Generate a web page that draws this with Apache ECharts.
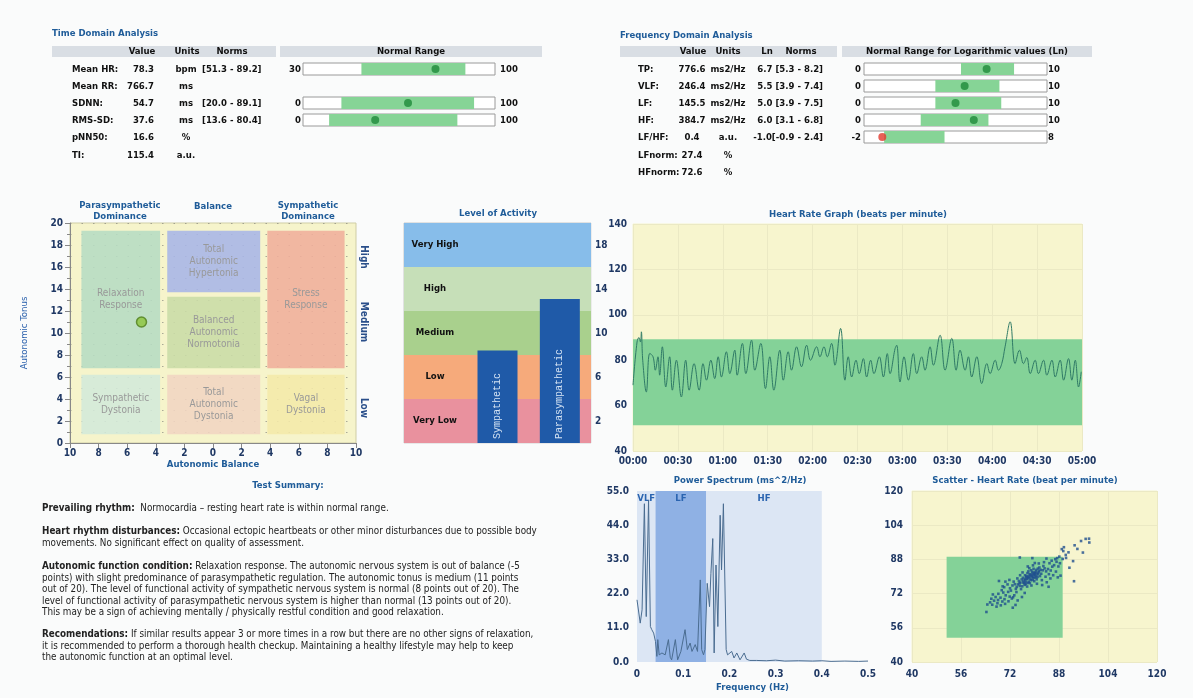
<!DOCTYPE html>
<html>
<head>
<meta charset="utf-8">
<title>HRV Report</title>
<script src="https://cdn.jsdelivr.net/npm/echarts@6/dist/echarts.min.js"></script>
<style>
  html, body { margin: 0; padding: 0; background: #fafbfb; }
  #page { position: relative; width: 1193px; height: 698px; overflow: hidden;
    font-family: "DejaVu Sans Condensed", "Liberation Sans", sans-serif; color: #111; }
  #chart { position: absolute; left: 0; top: 0; width: 1193px; height: 698px; }
  .t { position: absolute; white-space: nowrap; font-size: 9.5px; line-height: 12px; z-index: 2; }
  .b { font-weight: bold; }
  .title { color: #1f5c99; font-weight: bold; }
  .hdr { position: absolute; background: #d9dee4; height: 11px; }
  .summary { position: absolute; left: 42px; font-size: 9.8px; line-height: 11.5px; white-space: nowrap; color: #222; z-index: 2; }
</style>
</head>
<body>
<div id="page">
  <div id="chart"></div>
</div>
<script>
// ---- time domain table ----
const tdLabels = ['Mean HR:', 'Mean RR:', 'SDNN:', 'RMS-SD:', 'pNN50:', 'TI:'];
const tdValues = [78.3, 766.7, 54.7, 37.6, 16.6, 115.4];
const tdUnits = ['bpm', 'ms', 'ms', 'ms', '%', 'a.u.'];
const tdNorms = ['[51.3 - 89.2]', '', '[20.0 - 89.1]', '[13.6 - 80.4]', '', ''];
const tdBarRows = [0, 2, 3];
const tdBarMin = [30, 0, 0];
const tdBarMax = [100, 100, 100];
const tdBarLo = [51.3, 20.0, 13.6];
const tdBarHi = [89.2, 89.1, 80.4];

// ---- frequency domain table ----
const fdLabels = ['TP:', 'VLF:', 'LF:', 'HF:', 'LF/HF:', 'LFnorm:', 'HFnorm:'];
const fdValues = [776.6, 246.4, 145.5, 384.7, 0.4, 27.4, 72.6];
const fdUnits = ['ms2/Hz', 'ms2/Hz', 'ms2/Hz', 'ms2/Hz', 'a.u.', '%', '%'];
const fdLn = [6.7, 5.5, 5.0, 6.0, -1.0];
const fdLo = [5.3, 3.9, 3.9, 3.1, -0.9];
const fdHi = [8.2, 7.4, 7.5, 6.8, 2.4];
const fdMin = [0, 0, 0, 0, -2];
const fdMax = [10, 10, 10, 10, 8];

// ---- autonomic balance ----
const zoneNames = ['Relaxation\nResponse', 'Total\nAutonomic\nHypertonia', 'Balanced\nAutonomic\nNormotonia',
  'Stress\nResponse', 'Sympathetic\nDystonia', 'Total\nAutonomic\nDystonia', 'Vagal\nDystonia'];
const zoneX0 = [-9.2, -3.2, -3.2, 3.8, -9.2, -3.2, 3.8];
const zoneX1 = [-3.7, 3.3, 3.3, 9.2, -3.7, 3.3, 9.2];
const zoneY0 = [6.8, 13.7, 6.8, 6.8, 0.8, 0.8, 0.8];
const zoneY1 = [19.3, 19.3, 13.3, 19.3, 6.2, 6.2, 6.2];
const zoneColors = ['#b6dcc3', '#a7b5e7', '#cadca6', '#f0ae9b', '#d3e9da', '#f1d5c2', '#f4e9a8'];
const balanceX = -5;
const tonusY = 11;
const tonusLevels = ['High', 'Medium', 'Low'];

// ---- level of activity ----
const actCats = ['', 'Sympathetic', 'Parasympathetic'];
const actValues = ['-', 8.4, 13.1];
const actBandNames = ['Very Low', 'Low', 'Medium', 'High', 'Very High'];
const actBandEdges = [0, 4, 8, 12, 16, 20];
const actBandColors = ['#e9919e', '#f6aa7b', '#a9d08d', '#c6dfb8', '#87bdea'];

// ---- heart rate graph (seconds, bpm) ----
const hrTime = [0, 2.7, 4.0, 5.0, 5.6, 6.5, 8.9, 11.2, 13.4, 14.9, 16.7, 17.8, 19.6, 21.9, 24.5, 26.3, 29.0,
  32.3, 35.2, 37.5, 40.8, 44.2, 46.8, 49.1, 52.0, 54.6, 56.9, 59.1, 62.4, 64.7, 68.0, 69.6, 73.1, 75.4,
  79.2, 81.4, 85.4, 88.5, 91.4, 94.1, 98.1, 100.4, 103.7, 105.9, 109.3, 112.6, 116.0, 118.6, 122.7,
  124.9, 127.6, 129.8, 132.7, 134.9, 138.7, 141.6, 143.8, 146.1, 149.0, 151.2, 153.9, 156.1, 158.8,
  161.0, 164.6, 167.3, 169.9, 171.7, 175.1, 176.2, 178.4, 181.1, 184.0, 187.3, 189.6, 192.9, 195.1,
  198.5, 200.7, 205.2, 208.5, 213.0, 215.9, 218.5, 221.9, 224.1, 226.3, 229.7, 233.0, 236.4, 238.6,
  242.0, 244.2, 246.4, 248.6, 252.0, 255.3, 258.2, 260.9, 263.1, 265.4, 268.7, 270.9, 274.3, 276.5,
  279.9, 282.1, 285.4, 287.7, 291.0, 293.2, 295.5, 297.7, 299.5];
const hrBpm = [69.0, 88.0, 90.0, 88.0, 92.5, 80.0, 66.0, 83.0, 81.5, 75.6, 81.5, 73.4, 85.9, 68.2, 81.5, 66.8, 80.0,
  63.8, 80.0, 66.8, 78.5, 66.8, 78.5, 71.2, 80.0, 71.9, 81.5, 72.6, 83.7, 74.1, 84.4, 73.4, 87.4, 74.1,
  88.8, 75.6, 87.4, 67.5, 81.5, 66.8, 84.4, 71.2, 83.7, 75.6, 85.9, 77.1, 86.6, 80.0, 85.9,
  81.5, 85.9, 81.5, 87.4, 77.8, 94.0, 71.2, 81.5, 72.6, 80.0, 74.1, 80.7, 72.6, 80.0,
  74.1, 81.5, 72.6, 82.9, 74.1, 85.1, 86.6, 70.4, 81.5, 71.2, 82.9, 74.1, 81.5, 75.6,
  85.9, 77.8, 91.0, 75.6, 89.6, 75.6, 84.4, 75.6, 81.5, 72.6, 81.5, 69.7, 78.5, 74.1,
  80.0, 75.6, 78.5, 85.9, 96.9, 78.5, 84.4, 78.5, 81.2, 74.1, 80.0, 74.1, 80.0, 73.4,
  80.0, 72.6, 80.0, 71.2, 80.7, 71.2, 80.0, 68.2, 74.9];
const hrNorm = [51.3, 89.2];

// ---- power spectrum ----
const psFreq = [0, 0.007, 0.011, 0.016, 0.020, 0.025, 0.029, 0.032, 0.036, 0.040, 0.043, 0.045, 0.048, 0.054,
  0.061, 0.068, 0.072, 0.075, 0.083, 0.088, 0.095, 0.104, 0.109, 0.115, 0.119, 0.126, 0.131, 0.137, 0.140,
  0.144, 0.147, 0.152, 0.157, 0.160, 0.164, 0.167, 0.171, 0.175, 0.180, 0.183, 0.187, 0.191, 0.193, 0.196,
  0.200, 0.205, 0.210, 0.216, 0.223, 0.232, 0.237, 0.244, 0.259, 0.28, 0.30, 0.32, 0.35, 0.38, 0.40, 0.42,
  0.45, 0.48, 0.50];
const psPower = [20.0, 12.5, 16.8, 50.9, 14.6, 52.0, 11.4, 10.4, 9.3, 6.6, 1.8, 7.2, 2.3, 2.9,
  2.3, 7.2, 1.5, 0.7, 7.2, 0.7, 3.4, 10.4, 4.0, 6.1, 3.4, 5.6, 3.4, 26.4, 4.0,
  2.3, 4.0, 25.3, 17.8, 28.5, 39.7, 2.9, 31.2, 11.4, 47.2, 29.6, 50.9, 50.4, 4.0, 2.3,
  1.8, 3.4, 1.3, 2.9, 0.7, 2.9, 0.9, 0.5, 0.5, 0.4, 0.6, 0.3, 0.4, 0.3, 0.4, 0.2,
  0.3, 0.2, 0.3];
const psBandNames = ['VLF', 'LF', 'HF'];
const psBandEdges = [0, 0.04, 0.15, 0.4];
const psBandColors = ['#dce6f4', '#8fb1e4', '#dce6f4'];

// ---- scatter (HR n, HR n+1) ----
const scatterPts = [
  [78.2,79.6],[79.1,80.4],[77.5,78.9],[80.3,81.7],[76.4,78.1],[78.8,78.3],[79.6,79.2],[80.1,80.6],[81.2,81.4],
  [77.3,80.2],[78.4,81.1],[79.3,82.2],[80.6,83.1],[76.2,79.4],[77.1,77.5],[75.4,77.2],[74.6,76.3],[76.8,76.1],
  [75.2,75.6],[78.6,80.8],[79.8,80.9],[80.9,81.0],[77.9,79.1],[78.1,77.6],[79.4,78.4],[81.5,82.6],[82.2,81.3],
  [77.7,81.6],[76.9,80.6],[78.9,82.9],[80.2,79.5],[81.8,80.2],[79.9,77.8],[76.3,77.2],[75.8,78.6],[74.9,77.9],
  [77.2,76.5],[78.5,76.9],[80.7,78.7],[82.7,82.9],[83.3,83.8],[81.1,83.7],[79.2,81.3],[78.0,80.1],[77.0,78.3],
  [76.6,76.9],[75.1,76.8],[74.2,75.1],[73.6,76.4],[80.4,82.3],[81.6,84.2],[82.9,84.9],[83.8,82.4],[84.4,83.5],
  [79.7,83.6],[78.3,83.9],[76.1,81.9],[75.3,80.6],[74.4,79.1],[73.2,77.6],[72.8,75.8],[73.9,74.2],[75.6,74.1],
  [77.6,75.3],[79.0,75.8],[80.8,76.6],[82.4,78.3],[83.6,79.9],[84.7,81.1],[85.3,82.8],[85.8,84.6],[84.9,86.2],
  [83.1,86.7],[81.4,86.1],[79.5,85.2],[77.8,84.7],[78.7,78.9],[79.5,79.9],[80.0,81.3],[78.9,80.0],[77.4,79.7],
  [79.8,81.8],[81.0,79.8],[78.0,82.4],[76.9,79.0],[80.5,80.0],[81.3,82.0],[82.0,83.1],[77.9,77.0],[76.0,75.4],
  [72.3,73.4],[71.4,72.8],[70.6,71.2],[69.8,72.5],[71.9,70.6],[70.2,69.4],[68.9,70.1],[69.5,68.3],[68.1,69.0],
  [67.3,70.4],[66.8,68.7],[67.9,67.5],[66.2,66.8],[65.5,67.9],[64.6,66.9],[64.3,63.4],[65.9,69.6],[66.4,71.6],
  [68.2,71.9],[69.3,73.6],[70.1,75.0],[71.2,76.3],[72.0,74.5],[73.4,71.2],[72.6,69.7],[71.5,68.4],[73.8,66.7],
  [72.9,65.4],[70.4,67.2],[74.5,68.8],[75.9,70.4],[76.8,72.3],[74.1,72.7],[73.0,70.3],[69.0,66.5],[67.6,65.9],
  [68.4,77.9],[70.5,77.6],[71.8,78.4],[69.6,75.4],
  [86.4,85.3],[87.2,86.9],[86.8,88.1],[85.6,87.4],[87.8,84.7],[88.3,86.2],[87.0,82.3],[86.1,80.6],[85.2,79.1],
  [84.0,77.3],[87.6,79.6],[88.5,80.4],[84.6,75.2],[82.5,76.0],[83.9,88.4],[79.3,88.6],[75.2,88.9],[80.1,86.3],
  [88.9,92.8],[89.4,91.9],[90.2,90.1],[91.1,91.3],[92.6,87.2],[91.4,84.1],[92.9,77.8],[94.0,92.9],[95.8,91.2],
  [95.2,96.6],[96.7,97.6],[97.9,95.9],[97.8,97.7],[90.3,88.7],[88.1,89.3],[89.2,88.2],[87.4,88.6],[89.6,93.7],
  [93.1,94.6]];

// ---------------- text (tables + summary) ----------------
const page = document.getElementById('page');
function put(x, y, text, cls, align) {
  const d = document.createElement('div');
  d.className = 't ' + (cls || '');
  d.textContent = text;
  d.style.left = x + 'px';
  d.style.top = y + 'px';
  const tx = align === 'center' ? '-50%' : align === 'right' ? '-100%' : '0';
  d.style.transform = 'translate(' + tx + ', -50%)';
  page.appendChild(d);
  return d;
}
function bar(x, y, w) {
  const d = document.createElement('div');
  d.className = 'hdr';
  d.style.left = x + 'px'; d.style.top = y + 'px'; d.style.width = w + 'px';
  page.appendChild(d);
}

const rowY = [69, 86, 103, 120, 137, 155, 172];

put(52, 33, 'Time Domain Analysis', 'title');
bar(52, 46, 224); bar(280, 46, 262);
put(142, 51, 'Value', 'b', 'center');
put(187, 51, 'Units', 'b', 'center');
put(232, 51, 'Norms', 'b', 'center');
put(411, 51, 'Normal Range', 'b', 'center');
tdLabels.forEach((l, i) => {
  put(72, rowY[i], l, 'b');
  put(154, rowY[i], tdValues[i].toFixed(1), 'b', 'right');
  put(186, rowY[i], tdUnits[i], 'b', 'center');
  if (tdNorms[i]) put(202, rowY[i], tdNorms[i], 'b');
});
tdBarRows.forEach((r, k) => {
  put(301, rowY[r], String(tdBarMin[k]), 'b', 'right');
  put(500, rowY[r], String(tdBarMax[k]), 'b');
});

put(620, 35, 'Frequency Domain Analysis', 'title');
bar(620, 46, 217); bar(842, 46, 250);
put(693, 51, 'Value', 'b', 'center');
put(728, 51, 'Units', 'b', 'center');
put(767, 51, 'Ln', 'b', 'center');
put(801, 51, 'Norms', 'b', 'center');
put(967, 51, 'Normal Range for Logarithmic values (Ln)', 'b', 'center');
fdLabels.forEach((l, i) => {
  put(638, rowY[i], l, 'b');
  put(692, rowY[i], fdValues[i].toFixed(1), 'b', 'center');
  put(728, rowY[i], fdUnits[i], 'b', 'center');
  if (i < fdLn.length) {
    const ln = fdLn[i].toFixed(1);
    const sep = fdLn[i] < 0 ? '' : ' ';
    put(823, rowY[i], ln + sep + '[' + fdLo[i].toFixed(1) + ' - ' + fdHi[i].toFixed(1) + ']', 'b', 'right');
    put(861, rowY[i], String(fdMin[i]), 'b', 'right');
    put(1048, rowY[i], String(fdMax[i]), 'b');
  }
});

// chart titles / headers
put(120, 205, 'Parasympathetic', 'title', 'center');
put(120, 216, 'Dominance', 'title', 'center');
put(213, 206, 'Balance', 'title', 'center');
put(308, 205, 'Sympathetic', 'title', 'center');
put(308, 216, 'Dominance', 'title', 'center');
put(498, 213, 'Level of Activity', 'title', 'center');
put(858, 214, 'Heart Rate Graph (beats per minute)', 'title', 'center');
put(740, 480, 'Power Spectrum (ms^2/Hz)', 'title', 'center');
put(1025, 480, 'Scatter - Heart Rate (beat per minute)', 'title', 'center');
put(288, 485, 'Test Summary:', 'title', 'center');

const summary = [
  [502, '<b>Prevailing rhythm:</b>&nbsp; Normocardia – resting heart rate is within normal range.'],
  [525, '<b>Heart rhythm disturbances:</b> Occasional ectopic heartbeats or other minor disturbances due to possible body<br>' +
        'movements. No significant effect on quality of assessment.'],
  [560, '<b>Autonomic function condition:</b> Relaxation response. The autonomic nervous system is out of balance (-5<br>' +
        'points) with slight predominance of parasympathetic regulation. The autonomic tonus is medium (11 points<br>' +
        'out of 20). The level of functional activity of sympathetic nervous system is normal (8 points out of 20). The<br>' +
        'level of functional activity of parasympathetic nervous system is higher than normal (13 points out of 20).<br>' +
        'This may be a sign of achieving mentally / physically restful condition and good relaxation.'],
  [628, '<b>Recomendations:</b> If similar results appear 3 or more times in a row but there are no other signs of relaxation,<br>' +
        'it is recommended to perform a thorough health checkup. Maintaining a healthy lifestyle may help to keep<br>' +
        'the autonomic function at an optimal level.']
];
summary.forEach(([top, html]) => {
  const d = document.createElement('div');
  d.className = 'summary';
  d.style.top = top + 'px';
  d.innerHTML = html;
  page.appendChild(d);
});

// ---------------- charts ----------------
const FONT = '"DejaVu Sans Condensed", "Liberation Sans", sans-serif';
const NAVY = '#1f3864';
const BLUE = '#1f5c99';
const axisLbl = { color: NAVY, fontWeight: 'bold', fontSize: 10, fontFamily: FONT };

const grids = [], xAxes = [], yAxes = [], series = [];
function addGrid(g) { grids.push(g); return grids.length - 1; }

function rangeBar(left, top, width, min, max, lo, hi, val) {
  const gi = addGrid({ left, top, width, height: 12, show: true, backgroundColor: '#fff', borderColor: '#9a9a9a', borderWidth: 1 });
  xAxes.push({ gridIndex: gi, type: 'value', min, max, show: false });
  yAxes.push({ gridIndex: gi, type: 'category', data: [''], show: false });
  const out = val < lo || val > hi;
  series.push({
    type: 'scatter', xAxisIndex: gi, yAxisIndex: gi, silent: true, z: 5,
    symbolSize: 8, itemStyle: { color: out ? '#e23a2e' : '#1e8a3a' },
    data: [[val, 0]],
    markArea: { silent: true, itemStyle: { color: '#86d496' }, data: [[{ xAxis: lo }, { xAxis: hi }]] }
  });
}
tdBarRows.forEach((r, k) => rangeBar(303, rowY[r] - 6, 192, tdBarMin[k], tdBarMax[k], tdBarLo[k], tdBarHi[k], tdValues[r]));
fdLn.forEach((v, i) => rangeBar(864, rowY[i] - 6, 183, fdMin[i], fdMax[i], fdLo[i], fdHi[i], v));

// autonomic balance
const dotLine = { color: 'rgba(110,110,110,0.55)', type: [1.5, 10], width: 1.2 };
const ga = addGrid({ left: 70, top: 223, width: 286, height: 220, show: true, backgroundColor: '#f6f4cb', borderColor: '#cfcda5' });
xAxes.push({
  gridIndex: ga, type: 'value', min: -10, max: 10, interval: 2,
  name: 'Autonomic Balance', nameLocation: 'middle', nameGap: 17,
  nameTextStyle: { color: BLUE, fontWeight: 'bold', fontSize: 9.5, fontFamily: FONT },
  axisLine: { show: true, onZero: false, lineStyle: { color: '#888' } }, axisTick: { show: true, lineStyle: { color: '#888' } },
  axisLabel: { ...axisLbl, margin: 5, formatter: v => Math.abs(v) }, splitLine: { show: false }
});
yAxes.push({
  gridIndex: ga, type: 'value', min: 0, max: 20, interval: 2,
  name: 'Autonomic Tonus', nameLocation: 'middle', nameGap: 40, nameRotate: 90,
  nameTextStyle: { color: '#2c62ad', fontSize: 9.5, fontFamily: FONT },
  axisLine: { show: true, onZero: false, lineStyle: { color: '#888' } }, axisTick: { show: true, lineStyle: { color: '#888' } },
  minorTick: { show: true, splitNumber: 2, lineStyle: { color: '#888' } },
  axisLabel: { ...axisLbl, margin: 7 },
  splitLine: { show: true, lineStyle: dotLine },
  minorSplitLine: { show: true, lineStyle: dotLine }
});
series.push({
  type: 'scatter', xAxisIndex: ga, yAxisIndex: ga, z: 6, silent: true,
  symbolSize: 10, itemStyle: { color: '#8cc43c', borderColor: '#4f7d1c', borderWidth: 1.5 },
  data: [[balanceX, tonusY]],
  markArea: {
    silent: true,
    label: { show: true, position: 'inside', color: '#999', fontSize: 10, lineHeight: 12, fontFamily: FONT },
    data: zoneNames.map((n, i) => [
      { name: n, xAxis: zoneX0[i], yAxis: zoneY0[i], itemStyle: { color: zoneColors[i], opacity: 0.88 } },
      { xAxis: zoneX1[i], yAxis: zoneY1[i] }
    ])
  }
});

// level of activity
const gl = addGrid({ left: 404, top: 223, width: 187, height: 220, show: true, borderColor: '#c8c8c8' });
xAxes.push({
  gridIndex: gl, type: 'category', data: actCats,
  axisLine: { show: false }, axisTick: { show: false }, axisLabel: { show: false },
  splitLine: { show: true, lineStyle: { color: 'rgba(255,255,255,0.35)' } }
});
yAxes.push({
  gridIndex: gl, type: 'value', position: 'right', min: 0, max: 20, interval: 2,
  axisLine: { show: false }, axisTick: { show: false },
  axisLabel: { ...axisLbl, margin: 4, formatter: v => (v % 4 === 2 ? v : '') },
  splitLine: { show: true, lineStyle: { color: 'rgba(255,255,255,0.22)' } }
});
series.push({
  type: 'bar', xAxisIndex: gl, yAxisIndex: gl, data: actValues, barWidth: 40, silent: true, z: 3,
  itemStyle: { color: '#1f5aa8' },
  label: {
    show: true, position: 'insideBottom', rotate: 90, align: 'left', verticalAlign: 'middle', distance: 4,
    formatter: '{b}', color: '#d3e2f3', fontSize: 10, fontFamily: '"Liberation Mono", "DejaVu Sans Mono", monospace'
  },
  markArea: {
    silent: true,
    label: { show: true, position: [31, 22], align: 'center', verticalAlign: 'middle', color: '#111', fontWeight: 'bold', fontSize: 9.5, fontFamily: FONT },
    data: actBandNames.map((n, i) => [
      { name: n, yAxis: actBandEdges[i], itemStyle: { color: actBandColors[i], opacity: 1 } },
      { yAxis: actBandEdges[i + 1] }
    ])
  }
});

// heart rate graph
const gh = addGrid({ left: 633, top: 224, width: 449, height: 227, show: true, backgroundColor: '#f7f5ce', borderColor: '#f7f5ce' });
xAxes.push({
  gridIndex: gh, type: 'value', min: 0, max: 300, interval: 30,
  axisLine: { show: false }, axisTick: { show: false },
  axisLabel: {
    ...axisLbl, margin: 5,
    formatter: s => String(Math.floor(s / 60)).padStart(2, '0') + ':' + String(s % 60).padStart(2, '0')
  },
  splitLine: { show: true, lineStyle: { color: '#ebe9c4' } }
});
yAxes.push({
  gridIndex: gh, type: 'value', min: 40, max: 140, interval: 20,
  axisLine: { show: false }, axisTick: { show: false }, axisLabel: { ...axisLbl, margin: 6 },
  splitLine: { show: true, lineStyle: { color: '#ebe9c4' } }
});
series.push({
  type: 'line', xAxisIndex: gh, yAxisIndex: gh, silent: true, showSymbol: false, smooth: 0.4,
  data: hrTime.map((t, i) => [t, hrBpm[i]]),
  lineStyle: { color: '#2f7a66', width: 1 },
  markArea: { silent: true, itemStyle: { color: '#84d298' }, data: [[{ yAxis: hrNorm[0] }, { yAxis: hrNorm[1] }]] }
});

// power spectrum
const gp = addGrid({ left: 637, top: 491, width: 231, height: 171 });
xAxes.push({
  gridIndex: gp, type: 'value', min: 0, max: 0.5, interval: 0.1,
  name: 'Frequency (Hz)', nameLocation: 'middle', nameGap: 21,
  nameTextStyle: { color: BLUE, fontWeight: 'bold', fontSize: 9.5, fontFamily: FONT },
  axisLine: { show: false }, axisTick: { show: false },
  axisLabel: { ...axisLbl, margin: 7, formatter: v => (v === 0 ? '0' : v.toFixed(1)) },
  splitLine: { show: false }
});
yAxes.push({
  gridIndex: gp, type: 'value', min: 0, max: 55, interval: 11,
  axisLine: { show: false }, axisTick: { show: false },
  axisLabel: { ...axisLbl, margin: 8, formatter: v => v.toFixed(1) },
  splitLine: { show: false }
});
series.push({
  type: 'line', xAxisIndex: gp, yAxisIndex: gp, silent: true, showSymbol: false,
  data: psFreq.map((f, i) => [f, psPower[i]]),
  lineStyle: { color: '#4a6c90', width: 1 },
  markArea: {
    silent: true,
    label: { show: true, position: 'insideTop', distance: 3, color: '#2a64b0', fontWeight: 'bold', fontSize: 9.5, fontFamily: FONT },
    data: psBandNames.map((n, i) => [
      { name: n, xAxis: psBandEdges[i], itemStyle: { color: psBandColors[i], opacity: 1 } },
      { xAxis: psBandEdges[i + 1] }
    ])
  }
});

// scatter
const gs = addGrid({ left: 912, top: 491, width: 245, height: 171, show: true, backgroundColor: '#f7f5ce', borderColor: '#f7f5ce' });
xAxes.push({
  gridIndex: gs, type: 'value', min: 40, max: 120, interval: 16,
  axisLine: { show: false }, axisTick: { show: false }, axisLabel: { ...axisLbl, margin: 7 },
  splitLine: { show: true, lineStyle: { color: '#ebe9c4' } }
});
yAxes.push({
  gridIndex: gs, type: 'value', min: 40, max: 120, interval: 16,
  axisLine: { show: false }, axisTick: { show: false }, axisLabel: { ...axisLbl, margin: 9 },
  splitLine: { show: true, lineStyle: { color: '#ebe9c4' } }
});
series.push({
  type: 'scatter', xAxisIndex: gs, yAxisIndex: gs, silent: true, z: 4,
  symbol: 'rect', symbolSize: 2.6, itemStyle: { color: '#1f4f8f' },
  data: scatterPts,
  markArea: {
    silent: true, itemStyle: { color: '#84d298' },
    data: [[{ xAxis: hrNorm[0], yAxis: hrNorm[0] }, { xAxis: hrNorm[1], yAxis: hrNorm[1] }]]
  }
});

// tonus level tags on the right of the autonomic chart
const tonusLevelY = [257, 322, 408];
const graphic = tonusLevels.map((t, i) => ({
  type: 'text', x: 364, y: tonusLevelY[i], rotation: -Math.PI / 2,
  style: { text: t, fill: '#2a4f8a', font: 'bold 10px ' + FONT, align: 'center', verticalAlign: 'middle' }
}));

const chart = echarts.init(document.getElementById('chart'), null, { renderer: 'canvas' });
chart.setOption({
  animation: false,
  backgroundColor: 'transparent',
  textStyle: { fontFamily: FONT },
  grid: grids,
  xAxis: xAxes,
  yAxis: yAxes,
  series: series,
  graphic: graphic
});
</script>
</body>
</html>
